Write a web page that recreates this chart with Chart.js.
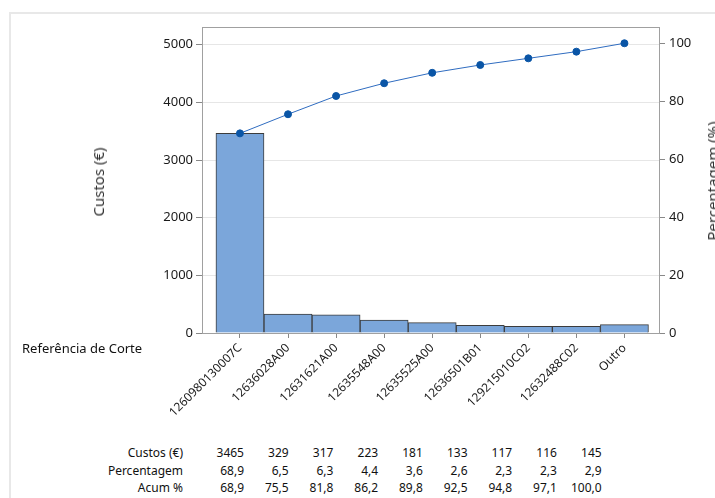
<!DOCTYPE html>
<html>
<head>
<meta charset="utf-8">
<script src="https://cdn.jsdelivr.net/npm/chart.js@4"></script>
<style>
  body { margin: 0; width: 715px; height: 498px; overflow: hidden; position: relative; background: #fff; font-family: 'Noto Sans', sans-serif; }
  #frame { position: absolute; left: 9px; top: 12px; width: 800px; height: 600px; border: 2px solid #e8e8e8; }
  #wrap { position: absolute; left: 0; top: 0; width: 715px; height: 430px; }
  .title { position: absolute; font-size: 15px; color: #333; white-space: nowrap; transform: translate(-50%, -50%) rotate(-90deg); }
  .txt { position: absolute; font-size: 12px; color: #111; white-space: nowrap; transform: translateY(-50%); }
</style>
</head>
<body>
<div id="frame"></div>
<div id="wrap"><canvas id="chart"></canvas></div>
<div class="title" style="left:98px; top:182px">Custos (€)</div>
<div class="title" style="left:712px; top:181px">Percentagem (%)</div>
<div class="txt" style="left:22px; top:348px; font-size:13px">Referência de Corte</div>
<div id="table"></div>
<script>
// Pareto data
const refs = ["1260980130007C", "12636028A00", "12631621A00", "12635548A00", "12635525A00", "12636501B01", "129215010C02", "12632488C02", "Outro"];
const custos = [3465, 329, 317, 223, 181, 133, 117, 116, 145];
const percentagem = [68.9, 6.5, 6.3, 4.4, 3.6, 2.6, 2.3, 2.3, 2.9];
const acum = [68.9, 75.5, 81.8, 86.2, 89.8, 92.5, 94.8, 97.1, 100.0];
const custoTicks = [0, 1000, 2000, 3000, 4000, 5000];
const pctTicks = [0, 20, 40, 60, 80, 100];
const rowNames = ["Custos (€)", "Percentagem", "Acum %"];

const total = custos.reduce((a, b) => a + b, 0);
const yMax = 5308;

Chart.defaults.font.family = "'Noto Sans', sans-serif";
Chart.defaults.font.size = 13;
Chart.defaults.color = '#1a1a1a';

// plot box around the chart area
const plotFrame = {
  id: 'plotFrame',
  beforeDatasetsDraw(chart) {
    const { ctx, chartArea: a } = chart;
    ctx.save();
    ctx.strokeStyle = '#a0a0a0';
    ctx.lineWidth = 1;
    ctx.strokeRect(a.left + 0.5, a.top + 0.5, a.right - a.left - 1, a.bottom - a.top);
    ctx.restore();
  }
};

const ctx = document.getElementById('chart').getContext('2d');
new Chart(ctx, {
  type: 'bar',
  data: {
    datasets: [
      {
        type: 'line',
        data: acum.map((v, i) => ({ x: i, y: v })),
        yAxisID: 'y2',
        borderColor: '#2f6cc0',
        borderWidth: 1,
        backgroundColor: '#0a55a6',
        pointBackgroundColor: '#0a55a6',
        pointBorderColor: '#0a55a6',
        pointRadius: 3.5,
        tension: 0,
        order: 0
      },
      {
        data: custos.map((v, i) => ({ x: i, y: v })),
        yAxisID: 'y',
        backgroundColor: '#7ba6da',
        borderColor: '#3c3c3c',
        borderWidth: 1,
        barPercentage: 1,
        categoryPercentage: 1,
        order: 1
      }
    ]
  },
  options: {
    responsive: true,
    maintainAspectRatio: false,
    animation: false,
    layout: { padding: { top: 27, left: 0, right: 0, bottom: 0 } },
    plugins: { legend: { display: false }, tooltip: { enabled: false } },
    scales: {
      x: {
        type: 'linear',
        offset: false,
        min: -0.79,
        max: 8.74,
        border: { display: false },
        grid: { offset: false, drawOnChartArea: false, tickLength: 5, tickColor: '#888' },
        afterBuildTicks: s => { s.ticks = refs.map((_, i) => ({ value: i })); },
        afterFit: s => { s.height = 97; },
        ticks: {
          autoSkip: false,
          minRotation: 45,
          maxRotation: 45,
          padding: 3,
          font: { size: 12 },
          callback: v => refs[v]
        }
      },
      y: {
        position: 'left',
        min: 0,
        max: yMax,
        border: { display: false },
        grid: { color: '#e6e6e6', tickLength: 6, tickColor: '#888' },
        afterBuildTicks: s => { s.ticks = custoTicks.map(v => ({ value: v })); },
        afterFit: s => { s.width = 202; },
        ticks: { padding: 3, callback: v => String(v) }
      },
      y2: {
        position: 'right',
        min: 0,
        max: yMax / total * 100,
        border: { display: false },
        grid: { drawOnChartArea: false, tickLength: 5, tickColor: '#888' },
        afterBuildTicks: s => { s.ticks = pctTicks.map(v => ({ value: v })); },
        afterFit: s => { s.width = 55; },
        ticks: { padding: 4, callback: v => String(v) }
      }
    }
  },
  plugins: [plotFrame]
});

// data table under the chart
const table = document.getElementById('table');
const rows = [
  custos.map(v => String(v)),
  percentagem.map(v => v.toFixed(1).replace('.', ',')),
  acum.map(v => v.toFixed(1).replace('.', ','))
];
const rowY = [452, 469.5, 487];
rows.forEach((vals, r) => {
  const name = document.createElement('div');
  name.className = 'txt';
  name.textContent = rowNames[r];
  name.style.right = (715 - 183) + 'px';
  name.style.top = rowY[r] + 'px';
  table.appendChild(name);
  vals.forEach((v, i) => {
    const cell = document.createElement('div');
    cell.className = 'txt';
    cell.textContent = v;
    cell.style.right = (715 - (244 + i * 44.7)) + 'px';
    cell.style.top = rowY[r] + 'px';
    table.appendChild(cell);
  });
});
</script>
</body>
</html>
